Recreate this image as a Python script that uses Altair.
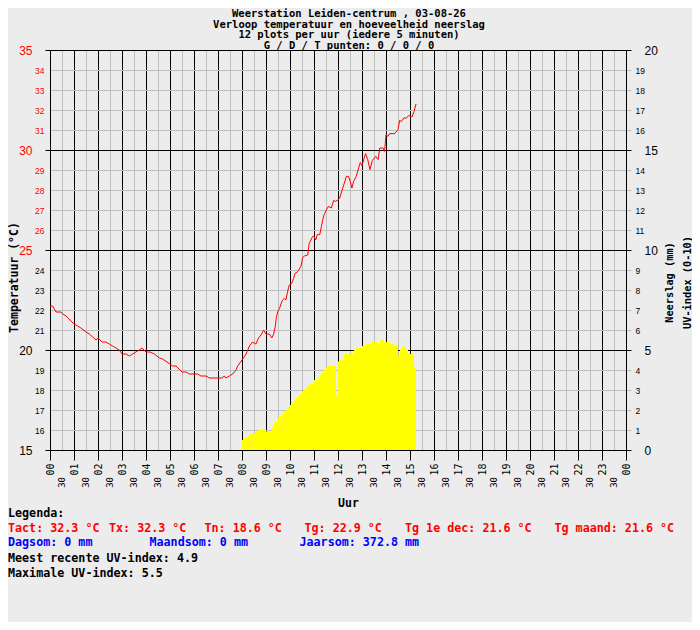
import altair as alt
import pandas as pd

# ---------------- data ----------------
title_lines = [
    "Weerstation Leiden-centrum , 03-08-26",
    "Verloop temperatuur en hoeveelheid neerslag",
    "12 plots per uur (iedere 5 minuten)",
    "G / D / T punten: 0 / 0 / 0",
]

temp_hours = [
    0.0, 0.11, 0.25, 0.46, 0.53, 0.67,
    1.0, 1.15, 1.29, 1.5, 1.64, 1.92,
    2.0, 2.17, 2.33, 2.47, 2.61, 2.75, 2.89,
    3.0, 3.17, 3.31, 3.44, 3.58, 3.72, 3.83,
    4.0, 4.17, 4.35, 4.56, 4.69,
    5.0, 5.11, 5.25, 5.5, 5.67, 5.81,
    6.15, 6.29, 6.5, 6.64,
    7.17, 7.26, 7.33, 7.47, 7.61, 7.75, 7.82,
    8.0, 8.17, 8.31, 8.44, 8.58, 8.69, 8.82, 8.9,
    9.0, 9.14, 9.24, 9.32, 9.39, 9.43, 9.49, 9.56, 9.625, 9.69, 9.76, 9.83, 9.9, 9.97,
    10.07, 10.15, 10.21, 10.32, 10.46, 10.53, 10.6, 10.74, 10.8, 10.94,
    11.0, 11.07, 11.14, 11.24, 11.31, 11.4, 11.51, 11.6, 11.72, 11.82, 11.9,
    12.0, 12.07, 12.2, 12.35, 12.44, 12.51, 12.58, 12.65, 12.76, 12.86, 12.93,
    13.0, 13.07, 13.15, 13.24, 13.33, 13.43, 13.57, 13.67, 13.74, 13.88, 13.94,
    14.0, 14.08, 14.15, 14.36, 14.5, 14.57, 14.64, 14.74, 14.85, 14.94,
    15.08, 15.17, 15.25,
]
temp_values = [
    22.2, 22.2, 21.9, 21.9, 21.8, 21.7,
    21.3, 21.2, 21.1, 20.9, 20.8, 20.5,
    20.6, 20.4, 20.4, 20.3, 20.2, 20.1, 20.0,
    19.8, 19.8, 19.7, 19.8, 19.9, 20.0, 20.1,
    19.9, 19.9, 19.8, 19.6, 19.55,
    19.3, 19.2, 19.2, 18.9, 18.9, 18.8,
    18.8, 18.7, 18.7, 18.6,
    18.6, 18.7, 18.6, 18.7, 18.8, 19.0, 19.2,
    19.5, 19.8, 20.2, 20.4, 20.3, 20.6, 20.8, 21.0,
    20.8, 20.8, 20.6, 20.8, 21.2, 21.63, 21.92, 22.07, 22.3, 22.5, 22.58, 22.5, 22.92, 23.25,
    23.33, 23.58, 23.83, 23.92, 24.2, 24.63, 24.7, 24.75, 25.33, 25.67,
    25.7, 25.5, 25.77, 25.77, 26.18, 26.7, 27.0, 27.18, 27.1, 27.48, 27.43,
    27.5, 27.6, 28.1, 28.68, 28.68, 28.43, 28.1, 28.43, 28.68, 29.1, 29.38,
    29.22, 29.52, 29.82, 29.52, 29.02, 29.47, 29.68, 29.52, 30.1, 30.1, 29.93,
    30.77, 30.68, 30.82, 30.82, 31.02, 31.48, 31.42, 31.6, 31.6, 31.72,
    31.65, 31.93, 32.3,
]

# UV index, one value per 5-minute plot, starting at 08:00
uv_first_hour = 8.0
uv_values = [
    0.5, 0.62, 0.62, 0.7, 0.82, 0.82, 0.82, 0.92, 1.02, 1.02, 1.02, 1.02,
    0.92, 0.92, 0.92, 1.12, 1.4, 1.4, 1.6, 1.7, 1.8, 1.92, 2.03, 2.15,
    2.25, 2.37, 2.48, 2.6, 2.7, 2.82, 2.92, 3.03, 3.13, 3.23, 3.33, 3.3,
    3.5, 3.5, 3.63, 3.78, 3.88, 4.0, 4.1, 4.2, 4.2, 4.2, 4.2, 2.72,
    4.42, 4.52, 4.52, 4.8, 4.8, 4.8, 4.8, 4.8, 5.0, 5.1, 5.1, 5.1,
    5.2, 5.2, 5.3, 5.3, 5.3, 5.4, 5.4, 5.4, 5.3, 5.5, 5.5, 5.4,
    5.4, 5.4, 5.3, 5.3, 5.2, 5.27, 4.7, 5.0, 5.2, 5.1, 5.0, 4.8,
    4.8, 4.8, 4.1,
]

hour_ticks = list(range(25))
half_hour_ticks = [h + 0.5 for h in range(24)]
temp_ticks = list(range(15, 36))
rain_ticks = list(range(0, 21))

legend_header = "Legenda:"
legend_temp = ["Tact: 32.3 °C", "Tx: 32.3 °C", "Tn: 18.6 °C", "Tg: 22.9 °C",
               "Tg 1e dec: 21.6 °C", "Tg maand: 21.6 °C"]
legend_rain = ["Dagsom: 0 mm", "Maandsom: 0 mm", "Jaarsom: 372.8 mm"]
legend_uv = ["Meest recente UV-index: 4.9", "Maximale UV-index: 5.5"]

# ---------------- tables ----------------
temp_df = pd.DataFrame({"uur": temp_hours, "temp": temp_values})
uv_times = [uv_first_hour + i / 12 for i in range(len(uv_values) + 1)]
uv_df = pd.DataFrame({"uur": uv_times, "uv": uv_values + [uv_values[-1]]})
half_df = pd.DataFrame({"uur": half_hour_ticks})
one = pd.DataFrame({"n": [0]})

# ---------------- styles ----------------
MONO = "DejaVu Sans Mono"
SANS = "Liberation Sans"
RED = "#FF0000"
BLUE = "#0000FF"
BLACK = "#000000"
GRID = "#BEBEBE"
BG = "#ECECEC"


def cond(test, a, b):
    return {"condition": {"test": test, "value": a}, "value": b}


is_hour = "datum.value % 1 === 0"
is_major = "datum.value % 5 === 0"

x_scale = alt.Scale(domain=[0, 24], nice=False, zero=False)

x_axis = alt.Axis(
    values=hour_ticks + half_hour_ticks,
    grid=True, gridColor=cond(is_hour, BLACK, GRID), gridOpacity=1, gridWidth=1,
    domainColor=BLACK, tickColor=cond(is_hour, BLACK, "transparent"), tickSize=10,
    labelExpr="datum.value % 1 === 0 ? (((datum.value % 24) < 10 ? '0' : '') + (datum.value % 24)) : ''",
    labelAngle=270, labelAlign="right", labelBaseline="middle", labelPadding=3,
    labelFont=MONO, labelFontSize=10, labelColor=BLACK,
    labelOverlap=False, labelFlush=False,
    title="Uur", titleFont=MONO, titleFontSize=11.5, titleFontWeight="bold",
    titleColor=BLACK, titleX=298, titleY=56, titleAlign="center",
    titleBaseline="alphabetic",
)

temp_axis = alt.Axis(
    orient="left", values=temp_ticks,
    grid=True, gridColor=cond(is_major, BLACK, GRID), gridOpacity=1, gridWidth=1,
    domainColor=BLACK, tickColor=cond(is_major, BLACK, "transparent"), tickSize=5,
    labelColor=cond("datum.value >= 25", RED, BLACK), labelFont=SANS,
    labelFontSize=cond(is_major, 12, 8.5), labelPadding=cond(is_major, 13, 1),
    labelOverlap=False, labelFlush=False,
    title="Temperatuur (°C)", titleFont=MONO, titleFontSize=11.5,
    titleFontWeight="bold", titleColor=BLACK, titleAngle=270,
    titleX=-33, titleY=227, titleAlign="center", titleBaseline="alphabetic",
)

rain_axis = alt.Axis(
    orient="right", values=rain_ticks, grid=False,
    domainColor=BLACK, tickColor=cond(is_major, BLACK, GRID), tickSize=5,
    labelColor=BLACK, labelFont=SANS,
    labelFontSize=cond(is_major, 12, 8.5), labelPadding=cond(is_major, 13, 4),
    labelOverlap=False, labelFlush=False,
    title=["Neerslag (mm)", "UV-index (0-10)"], titleFont=MONO, titleFontSize=10.3,
    titleFontWeight="bold", titleColor=BLACK, titleAngle=270,
    titleX=46, titleY=232, titleAlign="center", titleBaseline="alphabetic",
    titleLineHeight=18,
)

# ---------------- layers ----------------
uv_layer = alt.Chart(uv_df).mark_area(
    color="#FFFF00", interpolate="step-after", opacity=1
).encode(
    x=alt.X("uur:Q", scale=x_scale, axis=x_axis),
    y=alt.Y("uv:Q", scale=alt.Scale(domain=[0, 20], nice=False), axis=rain_axis),
)

temp_layer = alt.Chart(temp_df).mark_line(color=RED, strokeWidth=1).encode(
    x=alt.X("uur:Q", scale=x_scale, axis=x_axis),
    y=alt.Y("temp:Q", scale=alt.Scale(domain=[15, 35], nice=False, zero=False),
            axis=temp_axis),
)

half_layer = alt.Chart(half_df).mark_text(
    text="30", angle=270, align="right", baseline="middle",
    font=MONO, fontSize=9, color=BLACK,
).encode(
    x=alt.X("uur:Q", scale=x_scale, axis=x_axis),
    y=alt.value(427),
)


def label(txt, x, y, color=BLACK, align="left", size=11.7):
    return alt.Chart(one).mark_text(
        text=txt, align=align, baseline="middle", font=MONO, fontSize=size,
        fontWeight="bold", color=color,
    ).encode(x=alt.value(x), y=alt.value(y))


texts = []
for line, y in zip(title_lines, [-36, -25.5, -15, -4.5]):
    texts.append(label(line, 299, y, align="center", size=10.5))

texts.append(label(legend_header, -42, 462.5))
for txt, x in zip(legend_temp, [-42, 59, 154.5, 254.5, 355, 504.5]):
    texts.append(label(txt, x, 477.5, color=RED))
for txt, x in zip(legend_rain, [-42, 99.5, 249.5]):
    texts.append(label(txt, x, 492, color=BLUE))
for txt, y in zip(legend_uv, [507.5, 522.5]):
    texts.append(label(txt, -42, y))

chart = alt.layer(temp_layer, uv_layer, half_layer, *texts).resolve_scale(
    y="independent"
).properties(
    width=576, height=400,
    padding={"left": 42, "top": 42, "right": 66, "bottom": 172},
    autosize=alt.AutoSizeParams(type="none"),
    background=BG,
).configure_view(strokeWidth=0)

chart.save("out.html", embed_options={"renderer": "svg", "actions": False})
